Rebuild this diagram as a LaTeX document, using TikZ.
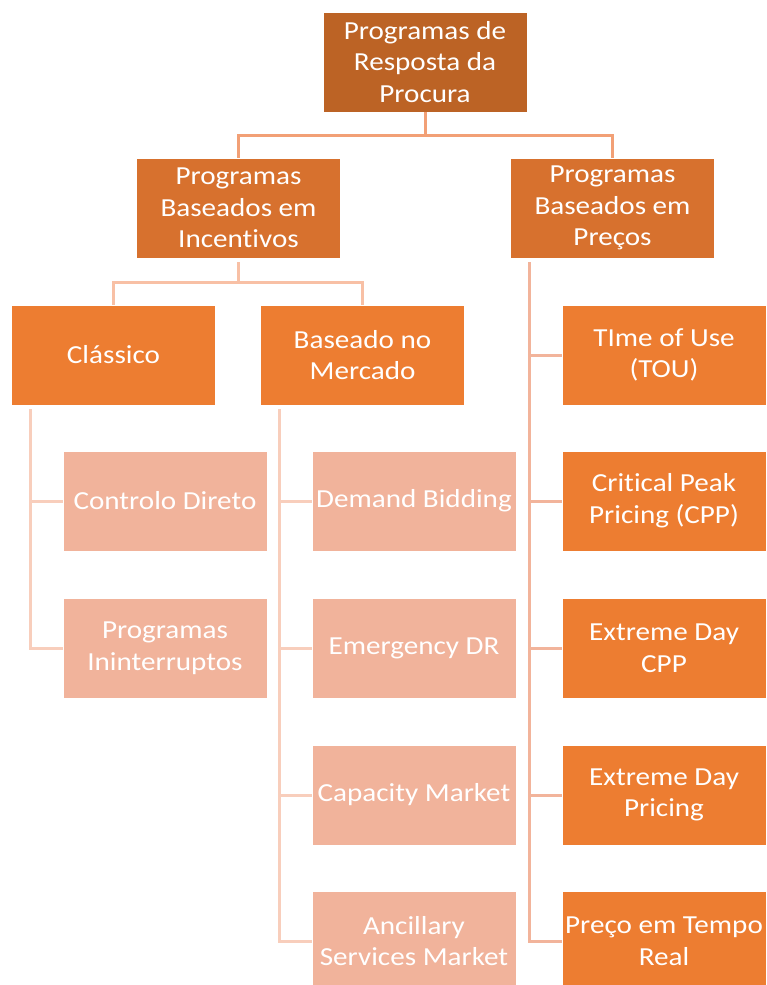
\documentclass[tikz,border=0pt]{standalone}
\usepackage{fontspec}
\setmainfont{Carlito}[FakeStretch=1.12, Ligatures=NoCommon]
\definecolor{ctop}{RGB}{188,99,37}
\definecolor{cmid}{RGB}{215,113,46}
\definecolor{cacc}{RGB}{237,125,49}
\definecolor{clight}{RGB}{241,179,155}
\definecolor{lnA}{RGB}{242,160,118}
\definecolor{lnB}{RGB}{248,192,165}
\definecolor{lnC}{RGB}{248,206,188}
\definecolor{lnD}{RGB}{242,180,155}
\begin{document}
\begin{tikzpicture}[x=1pt,y=-1pt,
  box/.style={rectangle, draw=white, line width=0.8pt, minimum width=204pt, minimum height=100pt,
    text=white, align=center, inner sep=0pt, font=\fontsize{26}{31.7}\selectfont},
  topbox/.style={box, fill=ctop},
  midbox/.style={box, fill=cmid},
  accbox/.style={box, fill=cacc},
  lightbox/.style={box, fill=clight},
  conn/.style={line width=3pt}]
\useasboundingbox (0,0) rectangle (766,985);
\node[topbox] (top) at (425,62) {Programas de\\Resposta da\\Procura};
\node[midbox] (inc) at (238.5,208) {Programas\\Baseados em\\Incentivos};
\node[midbox] (pre) at (612.5,208) {Programas\\Baseados em\\Preços};
\node[accbox] (cla) at (113.5,355) {Clássico};
\node[accbox] (mer) at (362.5,355) {Baseado no\\Mercado};
\node[lightbox] (cd) at (165,501) {Controlo Direto};
\node[lightbox] (pi) at (165,648) {Programas\\Ininterruptos};
\node[lightbox] (db) at (414,501) {Demand Bidding};
\node[lightbox] (edr) at (414,648) {Emergency DR};
\node[lightbox] (cm) at (414,795) {Capacity Market};
\node[lightbox] (asm) at (414,941) {Ancillary\\Services Market};
\node[accbox] (tou) at (664,355) {TIme of Use\\(TOU)};
\node[accbox] (cpp) at (664,501) {Critical Peak\\Pricing (CPP)};
\node[accbox] (edc) at (664,648) {Extreme Day\\CPP};
\node[accbox] (edp) at (664,795) {Extreme Day\\Pricing};
\node[accbox] (ptr) at (664,941) {Preço em Tempo\\Real};
% level 1 -> 2
\draw[conn, lnA] (top.south) -- ++(0,23) coordinate (j1) -| (inc.north);
\draw[conn, lnA] (j1) -| (pre.north);
% level 2 -> 3
\draw[conn, lnB] ([yshift=-4pt]inc.south) -- ++(0,20) coordinate (j2) -| (cla.north);
\draw[conn, lnB] (j2) -| (mer.north);
% classico branch
\draw[conn, lnC] ([xshift=19pt,yshift=-4pt]cla.south west) coordinate (k1) |- (cd.west);
\draw[conn, lnC] (k1) |- (pi.west);
% mercado branch
\draw[conn, lnC] ([xshift=19pt,yshift=-4pt]mer.south west) coordinate (k2) |- (db.west);
\draw[conn, lnC] (k2) |- (edr.west);
\draw[conn, lnC] (k2) |- (cm.west);
\draw[conn, lnC] (k2) |- (asm.west);
% precos branch
\draw[conn, lnD] ([xshift=19pt,yshift=-4pt]pre.south west) coordinate (k3) |- (tou.west);
\draw[conn, lnD] (k3) |- (cpp.west);
\draw[conn, lnD] (k3) |- (edc.west);
\draw[conn, lnD] (k3) |- (edp.west);
\draw[conn, lnD] (k3) |- (ptr.west);
\end{tikzpicture}
\end{document}
